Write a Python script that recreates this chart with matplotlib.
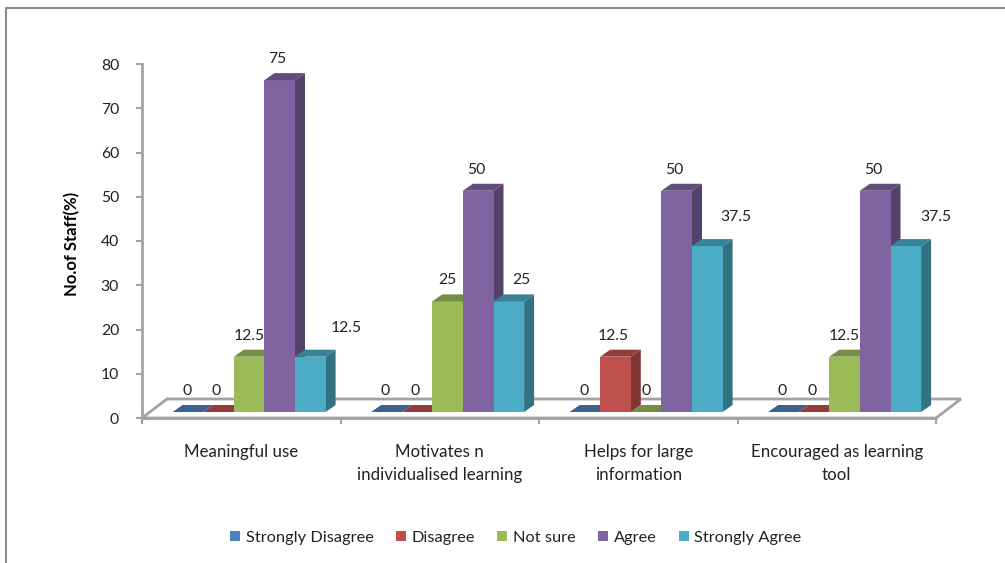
"""Staff survey responses, drawn as Excel-style pseudo-3D clustered columns."""

import matplotlib

matplotlib.use("Agg")
import matplotlib.pyplot as plt  # noqa: E402
from matplotlib.colors import to_rgb  # noqa: E402
from matplotlib.lines import Line2D  # noqa: E402
from matplotlib.patches import Patch, Polygon  # noqa: E402

categories = [
    "Meaningful use",
    "Motivates n\nindividualised learning",
    "Helps for large\ninformation",
    "Encouraged as learning\ntool",
]
series_names = ["Strongly Disagree", "Disagree", "Not sure", "Agree", "Strongly Agree"]
strongly_disagree = [0, 0, 0, 0]
disagree = [0, 0, 12.5, 0]
not_sure = [12.5, 25, 0, 12.5]
agree = [75, 50, 50, 50]
strongly_agree = [12.5, 25, 37.5, 37.5]
y_ticks = [0, 10, 20, 30, 40, 50, 60, 70, 80]

colors = ["#4F81BD", "#C0504D", "#9BBB59", "#8064A2", "#4BACC6"]

W, H = 1005, 563
GREY = "#A3A3A3"
TEXT = "#222222"
plt.rcParams["font.family"] = ["Lato", "DejaVu Sans"]

# axes box in pixels of the original picture
X0, X1, Y_TOP, Y_BOT = 142, 936, 64, 418
PX_X = (X1 - X0) / len(categories)
PX_Y = (Y_BOT - Y_TOP) / 80

BAR_W = 30.6 / PX_X
BAR_START = 30.6 / PX_X
DEPTH_X, DEPTH_Y = 10 / PX_X, 7 / PX_Y
BASE = 6 / PX_Y
FLOOR_X, FLOOR_Y = 25 / PX_X, 19 / PX_Y

# data labels sit off-centre in the original, most of all on the last series
LABEL_DX = [-1, -2, 0, -2, 0]
LAST_DX = [36, 13, 29, 30]


def shade(color, f):
    return tuple(c * f for c in to_rgb(color))


fig = plt.figure(figsize=(W / 100, H / 100), dpi=100)
ax = fig.add_axes([X0 / W, 1 - Y_BOT / H, (X1 - X0) / W, (Y_BOT - Y_TOP) / H])
ax.set_xlim(0, len(categories))
ax.set_ylim(0, 80)

# outer frame, left and top only
fig.add_artist(Line2D([6 / W, 6 / W, 1], [0, 1 - 8 / H, 1 - 8 / H], color="#8C8C8C", lw=1.5))

# floor
ax.add_patch(Polygon(
    [(0, 0), (FLOOR_X, FLOOR_Y), (len(categories) + FLOOR_X, FLOOR_Y), (len(categories), 0)],
    closed=True, facecolor="white", edgecolor=GREY, lw=2, clip_on=False, zorder=1,
))

all_series = [strongly_disagree, disagree, not_sure, agree, strongly_agree]
z = 3
for g in range(len(categories)):
    for s, values in enumerate(all_series):
        v = values[g]
        x = g + BAR_START + s * BAR_W
        top = BASE + v
        col = colors[s]
        ax.add_patch(Polygon(
            [(x + BAR_W, BASE), (x + BAR_W + DEPTH_X, BASE + DEPTH_Y),
             (x + BAR_W + DEPTH_X, top + DEPTH_Y), (x + BAR_W, top)],
            closed=True, facecolor=shade(col, 0.66), edgecolor="none", clip_on=False, zorder=z,
        ))
        ax.bar(x, v, BAR_W, bottom=BASE, align="edge", color=col, clip_on=False, zorder=z + 1)
        ax.add_patch(Polygon(
            [(x, top), (x + BAR_W, top), (x + BAR_W + DEPTH_X, top + DEPTH_Y), (x + DEPTH_X, top + DEPTH_Y)],
            closed=True, facecolor=shade(col, 0.76), edgecolor="none", clip_on=False, zorder=z + 1,
        ))
        z += 2
        last = s == len(all_series) - 1
        dx = LAST_DX[g] if last else LABEL_DX[s]
        dy = 22 if last and v != 25 else 14
        ax.annotate(f"{v:g}", (x + BAR_W / 2, top + DEPTH_Y), xytext=(dx * 0.72, dy * 0.72),
                    textcoords="offset points", ha="center", va="center",
                    fontsize=11.3, color=TEXT, zorder=200, annotation_clip=False)

for side in ("top", "right"):
    ax.spines[side].set_visible(False)
for side in ("left", "bottom"):
    ax.spines[side].set_color(GREY)
    ax.spines[side].set_linewidth(2)
    ax.spines[side].set_zorder(2)

ax.set_yticks(y_ticks)
ax.tick_params(axis="y", length=4.5, width=1.5, color=GREY, labelcolor=TEXT, labelsize=11.3, pad=12)
ax.set_xticks(range(len(categories) + 1))
ax.set_xticks([i + 0.5 for i in range(len(categories))], categories, minor=True)
ax.tick_params(axis="x", which="major", length=4, width=1.5, color=GREY, labelbottom=False)
ax.tick_params(axis="x", which="minor", length=0, labelcolor=TEXT, labelsize=12.2, pad=18.5)
for lbl in ax.get_xticklabels(minor=True):
    lbl.set_linespacing(1.6)

ax.set_ylabel("No.of Staff(%)", fontsize=12, fontweight="bold", color="black")
ax.yaxis.set_label_coords((80 - X0) / (X1 - X0), (Y_BOT - 244) / (Y_BOT - Y_TOP))

handles = [Patch(facecolor=c, label=n) for c, n in zip(colors, series_names)]
fig.legend(
    handles=handles, loc="center", bbox_to_anchor=(516 / W, 1 - 538 / H), ncol=5, frameon=False,
    fontsize=11.8, labelcolor=TEXT, handlelength=0.61, handleheight=0.61, handletextpad=0.35,
    columnspacing=1.35, borderpad=0,
)

fig.savefig("out.png", dpi=100, facecolor="white")
